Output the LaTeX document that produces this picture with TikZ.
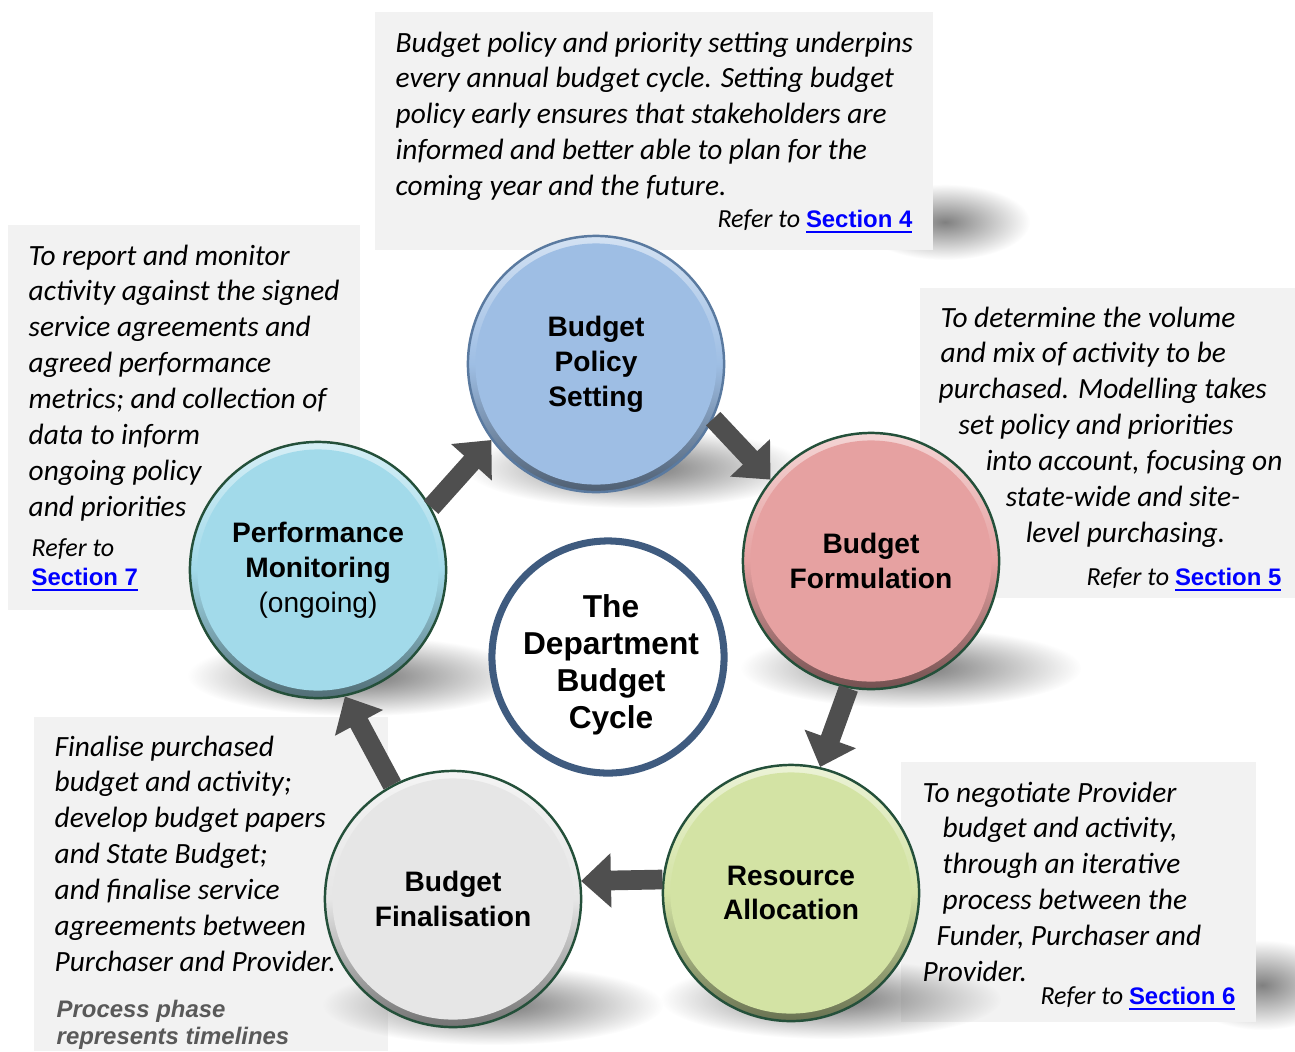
\documentclass[tikz,border=0pt]{standalone}
\usepackage{fontspec}
\setmainfont{Carlito}
\newfontfamily\arialfont{Liberation Sans}
\usetikzlibrary{arrows.meta,fadings}

\definecolor{notegray}{HTML}{F2F2F2}
\definecolor{policyblue}{HTML}{9EBEE4}
\definecolor{formpink}{HTML}{E6A1A1}
\definecolor{allocgreen}{HTML}{D3E3A4}
\definecolor{finalgray}{HTML}{E6E6E6}
\definecolor{monitorcyan}{HTML}{A2DAEA}
\definecolor{ringblue}{HTML}{3F5B7F}
\definecolor{rimgreen}{HTML}{24503A}
\definecolor{rimblue}{HTML}{5A7AA0}
\definecolor{arrowgray}{HTML}{4F4F4F}
\definecolor{linkblue}{HTML}{0000FF}
\definecolor{phasegray}{HTML}{595959}

\tikzfading[name=softdisc,inner color=transparent!0,outer color=transparent!100]

\newcommand{\notefont}{\fontsize{8.35}{10.2}\selectfont\itshape}
\newcommand{\referfont}{\fontsize{7.4}{9}\selectfont\itshape}
\newcommand{\labelfont}{\arialfont\bfseries\fontsize{8}{9.9}\selectfont}
\newcommand{\seclink}[1]{{\arialfont\upshape\bfseries\fontsize{6.8}{8}\selectfont\color{linkblue}\underline{#1}}}

\begin{document}
\begin{tikzpicture}[x=0.01cm,y=-0.01cm,
    note/.style={anchor=north west,inner sep=0pt,align=left,font=\notefont},
    refer/.style={inner sep=0pt,font=\referfont},
    phase/.style 2 args={circle,minimum size=2.56cm,inner sep=0pt,align=center,
      font=\labelfont,draw=#2,line width=0.7pt,
      top color=#1!45!white,bottom color=#1!50!black,middle color=#1,
      path picture={\fill[#1] (path picture bounding box.center) circle (1.205cm);}},
    flow/.style={draw=arrowgray,line width=5.6pt,-{Triangle[length=8.5pt,width=15pt]}},
    floorshadow/.style={fill=black!55,path fading=softdisc}]
  \useasboundingbox (0,0) rectangle (1295,1051);

  % Box shadows
  \fill[black!50,path fading=softdisc] (945,222) ellipse [x radius=0.85cm,y radius=0.38cm];%
  \fill[black!50,path fading=softdisc] (1262,985) ellipse [x radius=0.8cm,y radius=0.45cm];%

  % Note boxes
  \fill[notegray] (375,12) rectangle (933,250);%
  \fill[notegray] (8,225) rectangle (360,610);%
  \fill[notegray] (920,288) rectangle (1295,598);%
  \fill[notegray] (34,717) rectangle (388,1051);%
  \fill[notegray] (901,762) rectangle (1256,1022);%

  % Circle shadows
  \fill[floorshadow] (636,468) ellipse [x radius=1.7cm,y radius=0.4cm];%
  \fill[floorshadow] (911,668) ellipse [x radius=1.7cm,y radius=0.4cm];%
  \fill[floorshadow] (831,999) ellipse [x radius=1.7cm,y radius=0.4cm];%
  \fill[floorshadow] (493,1005) ellipse [x radius=1.7cm,y radius=0.4cm];%
  \fill[floorshadow] (358,676) ellipse [x radius=1.7cm,y radius=0.4cm];%

  % Top note
  \node[note] (topnote) at (395,31) {Budget policy and priority setting underpins\\
    every annual budget cycle. Setting budget\\
    policy early ensures that stakeholders are\\
    informed and better able to plan for the\\
    coming year and the future.};%
  \node[refer,anchor=base east] (topref) at (913,227) {Refer to \seclink{Section 4}};%

  % Left note
  \node[note] (leftnote) at (28,244) {To report and monitor\\
    activity against the signed\\
    service agreements and\\
    agreed performance\\
    metrics; and collection of\\
    data to inform\\
    ongoing policy\\
    and priorities};%
  \node[refer,anchor=base west] (leftref) at (31,556) {Refer to};%
  \node[refer,anchor=base west] (leftsec) at (31,585) {\seclink{Section 7}};%

  % Right note
  \node[note] (rightnote) at (938,306) {\hspace*{0.02cm}To determine the volume\\
    \hspace*{0.02cm}and mix of activity to be\\
    purchased. Modelling takes\\
    \hspace*{0.20cm}set policy and priorities\\
    \hspace*{0.47cm}into account, focusing on\\
    \hspace*{0.67cm}state-wide and site-\\
    \hspace*{0.87cm}level purchasing.};%
  \node[refer,anchor=base east] (rightref) at (1282,585) {Refer to \seclink{Section 5}};%

  % Bottom right note
  \node[note] (brnote) at (922,781) {To negotiate Provider\\
    \hspace*{0.20cm}budget and activity,\\
    \hspace*{0.20cm}through an iterative\\
    \hspace*{0.20cm}process between the\\
    \hspace*{0.14cm}Funder, Purchaser and\\
    Provider.};%
  \node[refer,anchor=base east] (brref) at (1236,1004) {Refer to \seclink{Section 6}};%

  % Bottom left note
  \node[note] (blnote) at (54,735) {Finalise purchased\\
    budget and activity;\\
    develop budget papers\\
    and State Budget;\\
    and finalise service\\
    agreements between\\
    Purchaser and Provider.};%
  \node[anchor=north west,inner sep=0pt,align=left,text=phasegray,
    font=\arialfont\bfseries\itshape\fontsize{6.8}{7.7}\selectfont] (blphase) at (56,999)
    {Process phase\\represents timelines};%

  % Phase circles
  \node[phase={policyblue}{rimblue}] (pol) at (596,364) {Budget\\Policy\\Setting};%
  \node[phase={formpink}{rimgreen}] (form) at (871,561) {Budget\\Formulation};%
  \node[phase={allocgreen}{rimgreen}] (alloc) at (791,893) {Resource\\Allocation};%
  \node[phase={finalgray}{rimgreen}] (fin) at (453,899) {Budget\\Finalisation};%
  \node[phase={monitorcyan}{rimgreen}] (mon) at (318,570) {Performance\\Monitoring\\{\mdseries(ongoing)}};%

  % Centre ring
  \node[circle,minimum size=2.32cm,inner sep=0pt,draw=ringblue,line width=2pt,fill=white] (cycle) at (608,657) {};%
  \node[align=center,inner sep=0pt,font=\arialfont\bfseries\fontsize{9}{10.5}\selectfont] (cyclename) at (611,665)
    {The\\Department\\Budget\\Cycle};%

  % Cycle arrows
  \draw[flow] (mon.29) -- (pol.216);%
  \draw[flow] (pol.-25) -- (form.141);%
  \draw[flow] (form.260) -- (alloc.77);%
  \draw[flow] (alloc.174) -- (fin.8);%
  \draw[flow] (fin.118) -- (mon.-78);%
\end{tikzpicture}
\end{document}
